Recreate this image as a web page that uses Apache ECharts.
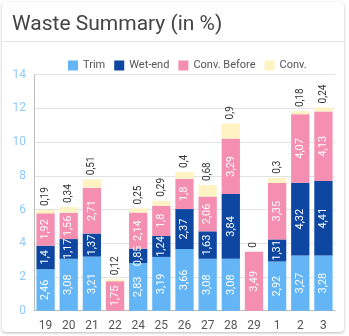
<!DOCTYPE html>
<html>
<head>
<meta charset="utf-8">
<script src="https://cdn.jsdelivr.net/npm/echarts@6/dist/echarts.min.js"></script>
<style>
  html, body { margin: 0; padding: 0; background: #fff; }
  #card {
    position: absolute; left: 2px; top: 2px; width: 342px; height: 330px;
    background: #fff; border-radius: 4px;
    box-shadow: 0 1px 3px rgba(0,0,0,0.28);
  }
  #chart { position: absolute; left: 0; top: 0; width: 349px; height: 336px; }
</style>
</head>
<body>
<div id="card"></div>
<div id="chart"></div>
<script>
// Days of the reporting period
const categories = ['19', '20', '21', '22', '24', '25', '26', '27', '28', '29', '1', '2', '3'];

// Waste share per stage (%)
const trim       = [2.46, 3.08, 3.21, 0, 2.83, 3.19, 3.66, 3.08, 3.08, 0, 2.92, 3.27, 3.28];
const wetEnd     = [1.4, 1.17, 1.37, 0, 0.85, 1.24, 2.37, 1.63, 3.84, 0, 1.31, 4.32, 4.41];
const convBefore = [1.92, 1.56, 2.71, 1.75, 2.14, 1.8, 1.8, 2.06, 3.29, 3.49, 3.35, 4.07, 4.13];
const conv       = [0.19, 0.34, 0.51, 0.12, 0.25, 0.29, 0.4, 0.68, 0.9, 0, 0.3, 0.18, 0.24];

const yTicks = { min: 0, max: 14, interval: 2 };

const fmt = v => String(v).replace('.', ',');

const insideLabel = {
  show: true,
  position: 'inside',
  rotate: 90,
  color: '#fff',
  fontSize: 11,
  fontFamily: 'Roboto',
  formatter: p => (p.value ? fmt(p.value) : '')
};

function stackSeries(name, data, color, label) {
  return {
    name, type: 'bar', stack: 'waste', data,
    barWidth: '79%',
    itemStyle: { color },
    label,
    emphasis: { disabled: true }
  };
}

const chart = echarts.init(document.getElementById('chart'));
chart.setOption({
  animation: false,
  textStyle: { fontFamily: 'Roboto' },
  title: {
    text: 'Waste Summary (in %)',
    left: 7, top: 9,
    textStyle: { fontSize: 21, fontWeight: 'normal', color: '#444', fontFamily: 'Roboto' }
  },
  graphic: [{
    type: 'line',
    shape: { x1: 2, y1: 41.5, x2: 344, y2: 41.5 },
    style: { stroke: '#e4e4e4', lineWidth: 1 }
  }],
  legend: {
    left: 63, top: 55,
    itemWidth: 10, itemHeight: 10, itemGap: 9,
    icon: 'rect',
    textStyle: { fontSize: 11, color: '#555' },
    data: ['Trim', 'Wet-end', 'Conv. Before', 'Conv.']
  },
  grid: { left: 34, right: 14, top: 74.7, bottom: 25.3 },
  xAxis: {
    type: 'category',
    data: categories,
    axisLine: { lineStyle: { color: '#bbb' } },
    axisTick: { show: false },
    axisLabel: { color: '#555', fontSize: 12, margin: 9 }
  },
  yAxis: {
    type: 'value',
    min: yTicks.min, max: yTicks.max, interval: yTicks.interval,
    axisLine: { show: true, lineStyle: { color: '#bbb' } },
    axisTick: { show: false },
    splitLine: { lineStyle: { color: '#e2e2e2' } },
    axisLabel: { color: '#90caf9', fontSize: 12, margin: 8 }
  },
  series: [
    stackSeries('Trim', trim, '#64b5f6', insideLabel),
    stackSeries('Wet-end', wetEnd, '#0d47a1', insideLabel),
    stackSeries('Conv. Before', convBefore, '#f48fb1', insideLabel),
    stackSeries('Conv.', conv, '#fff3c4', {
      show: true,
      position: 'top',
      rotate: 90,
      align: 'left',
      verticalAlign: 'middle',
      distance: 4,
      color: '#333',
      fontSize: 10,
      formatter: p => fmt(p.value)
    })
  ]
});
</script>
</body>
</html>
